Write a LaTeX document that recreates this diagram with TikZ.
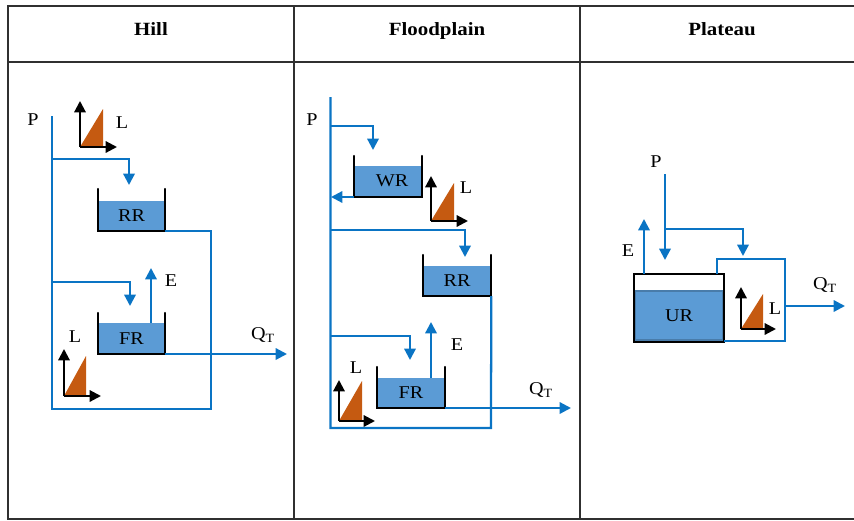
\documentclass[tikz,border=0pt]{standalone}
\usepackage{fontspec}
\setmainfont[FakeStretch=1.12]{Liberation Serif}
\usetikzlibrary{arrows.meta,calc}
\definecolor{flowblue}{HTML}{0A74C4}
\definecolor{waterblue}{HTML}{5B9BD5}
\definecolor{wedge}{HTML}{C55A11}
\definecolor{gridgrey}{HTML}{303030}
\tikzset{
  x=0.75pt,y=-0.75pt,
  grid/.style={draw=gridgrey,line width=0.9pt},
  head/.style={font=\bfseries\fontsize{14}{16}\selectfont,inner sep=0pt,anchor=base},
  lab/.style={font=\fontsize{13.5}{16}\selectfont,inner sep=0pt},
  water/.style={fill=waterblue,inner sep=0pt,font=\fontsize{13.5}{16}\selectfont,anchor=south},
  wall/.style={draw=black,line width=1.6pt,line cap=round},
  flow/.style={draw=flowblue,line width=1.7pt},
  flowto/.style={flow,-{Triangle[length=8.5pt,width=8.5pt]}},
  axis/.style={draw=black,line width=1.6pt,-{Triangle[length=8.5pt,width=8.5pt]}},
  tri/.style={fill=wedge}
}
% tank: name, text, left x, right x, wall top y, water top y, bottom y
\newcommand{\tankbox}[7]{%
  \node[water,minimum width={(#4-#3)*0.75pt},minimum height={(#7-#6)*0.75pt}] (#1) at ({(#3+#4)/2},#7) {\raisebox{-1pt}{#2}};
  \draw[wall] (#3,#5) -- (#3,#7) -- (#4,#7) -- (#4,#5);
}
% wedge with axes: id, origin x, origin y, up y, right x, wedge x, wedge top y
\newcommand{\wedgeaxes}[7]{%
  \fill[tri] (#2,#3) -- (#6,#7) -- (#6,#3) -- cycle;
  \coordinate (#1o) at (#2,#3);
  \coordinate (#1u) at (#2,#4);
  \coordinate (#1r) at (#5,#3);
  \draw[axis] (#1o) -- (#1u);
  \draw[axis] (#1o) -- (#1r);
}
\begin{document}
\begin{tikzpicture}
\useasboundingbox (0,0) rectangle (854,521);
% table
\coordinate (tl) at (8,6);
\coordinate (tr) at (854,6);
\coordinate (bl) at (8,519);
\coordinate (br) at (854,519);
\draw[grid] (tr) -- (tl) -- (bl) -- (br);
\draw[grid] (8,62) -- (854,62);
\draw[grid] (294,6) -- (294,519);
\draw[grid] (580,6) -- (580,519);
\node[head] (h1) at (151,36) {Hill};
\node[head] (h2) at (437,36) {Floodplain};
\node[head] (h3) at (722,36) {Plateau};

% ---- Hill
\tankbox{hRR}{RR}{98}{165}{189}{201}{231}
\tankbox{hFR}{FR}{98}{165}{313}{323}{354}
\node[lab] (hP) at (33,120) {P};
\node[lab] (hL1) at (122,123) {L};
\node[lab] (hL2) at (75,337) {L};
\node[lab] (hE) at (171,281) {E};
\node[lab] (hQ) at (263,335) {Q\textsubscript{T}};
\wedgeaxes{ha}{80}{147}{101}{117}{103}{109}
\wedgeaxes{hb}{64}{396}{349}{101}{86}{356}
\coordinate (hTop) at (52,116);
\coordinate (hB1) at (52,159);
\coordinate (hB2) at (52,282);
\coordinate (hIn1) at (129,185);
\coordinate (hIn2) at (130,306);
\coordinate (hEt) at (151,268);
\coordinate (hQt) at (287,354);
\draw[flow] (hTop) -- (52,409) -- (211,409) -- (211,231) -- (hRR.south east);
\draw[flowto] (hB1) -| (hIn1);
\draw[flowto] (hB2) -| (hIn2);
\draw[flowto] (151,323) -- (hEt);
\draw[flowto] (hFR.south east) -- (hQt);

% ---- Floodplain
\tankbox{fWR}{\hspace*{6pt}WR}{354}{422}{156}{166}{197}
\tankbox{fRR}{RR}{423}{491}{255}{266}{296}
\tankbox{fFR}{FR}{377}{445}{367}{378}{408}
\node[lab] (fP) at (312,120) {P};
\node[lab] (fL1) at (466,188) {L};
\node[lab] (fL2) at (356,368) {L};
\node[lab] (fE) at (457,345) {E};
\node[lab] (fQ) at (541,390) {Q\textsubscript{T}};
\wedgeaxes{fa}{431}{221}{176}{468}{454}{183}
\wedgeaxes{fb}{339}{421}{380}{375}{362}{381}
\coordinate (fTop) at (330.5,97);
\coordinate (fB1) at (330.5,126);
\coordinate (fB2) at (330.5,230);
\coordinate (fB3) at (330.5,336);
\coordinate (fIn1) at (373,150);
\coordinate (fIn2) at (465,257);
\coordinate (fIn3) at (410,360);
\coordinate (fEt) at (431,322);
\coordinate (fQt) at (571,408);
\coordinate (fOut) at (331,197);
\draw[flow] (fTop) -- (330.5,428) -- (491,428) -- (fRR.south east);
\draw[flowto] (fB1) -| (fIn1);
\draw[flowto] (fWR.south west) -- (fOut);
\draw[flowto] (fB2) -| (fIn2);
\draw[flowto] (fB3) -| (fIn3);
\draw[flowto] (431,378) -- (fEt);
\draw[flowto] (fFR.south east) -- (fQt);

% ---- Plateau
\node[lab] (pP) at (656,162) {P};
\node[lab] (pE) at (628,251) {E};
\node[lab] (pL) at (775,309) {L};
\node[lab] (pQ) at (825,285) {Q\textsubscript{T}};
\node[water,draw=black!20!waterblue,line width=1.2pt,minimum width=88.5*0.75pt,minimum height=49.5*0.75pt] (pUR) at (679,341) {UR};
\draw[draw=black,line width=1.6pt] (634,274) rectangle (724,342);
\wedgeaxes{pa}{741}{329}{287}{776}{763}{294}
\coordinate (pTop) at (665,174);
\coordinate (pB) at (665,229);
\coordinate (pIn) at (665,260);
\coordinate (pIn2) at (743,256);
\coordinate (pEt) at (644,219);
\coordinate (pQs) at (785,306);
\coordinate (pQt) at (845,306);
\draw[flowto] (pTop) -- (pIn);
\draw[flowto] (pB) -| (pIn2);
\draw[flowto] (644,274) -- (pEt);
\draw[flow] (717,274) -- (717,259) -- (785,259) -- (785,341) -- (724,341);
\draw[flowto] (pQs) -- (pQt);
\end{tikzpicture}
\end{document}
